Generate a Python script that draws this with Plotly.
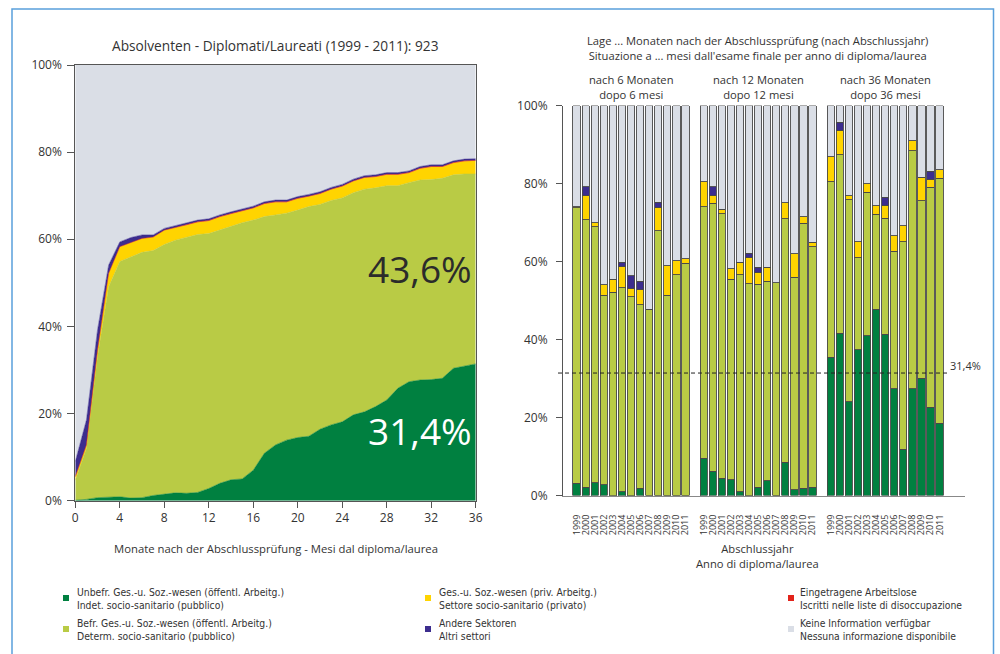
import plotly.graph_objects as go

# ---------------- data: left chart (months after graduation) ----------------
months = list(range(37))
left_green = [0.1, 0.3, 0.7, 0.8, 0.9, 0.6, 0.7, 1.2, 1.5, 1.8, 1.7, 1.9, 2.8, 4.0, 4.8, 5.0, 7.0,
              10.9, 12.8, 13.9, 14.5, 14.8, 16.4, 17.4, 18.1, 19.7, 20.4, 21.6, 23.1, 25.8, 27.3,
              27.7, 27.8, 28.1, 30.4, 30.9, 31.4]
left_olive = [4.6, 11.7, 32.4, 48.3, 54.0, 55.4, 56.3, 56.2, 57.3, 58.0, 58.7, 59.2, 58.5, 58.1, 58.2,
              58.8, 57.4, 54.3, 52.8, 52.1, 52.2, 52.7, 51.6, 51.5, 51.4, 51.0, 51.1, 50.2, 49.2,
              46.5, 45.7, 45.9, 45.9, 45.9, 44.4, 44.1, 43.6]
left_yellow = [0.8, 0.8, 1.5, 3.1, 3.4, 3.3, 3.2, 3.1, 3.3, 2.9, 2.8, 2.8, 2.9, 3.0, 2.8, 2.6, 2.7,
               2.9, 2.9, 2.5, 2.6, 2.3, 2.4, 2.5, 2.6, 2.6, 2.6, 2.5, 2.5, 2.5, 2.2, 2.6, 2.9,
               2.6, 2.7, 2.9, 3.0]
left_red = [0.0, 0.0, 0.0, 0.0, 0.0, 0.0, 0.0, 0.0, 0.0, 0.0, 0.1, 0.1, 0.1, 0.1, 0.1, 0.1, 0.1,
            0.1, 0.1, 0.1, 0.1, 0.1, 0.1, 0.1, 0.1, 0.1, 0.1, 0.1, 0.1, 0.1, 0.1, 0.1, 0.1,
            0.1, 0.1, 0.1, 0.1]
left_blue = [3.5, 5.7, 4.6, 1.9, 1.1, 1.1, 0.8, 0.5, 0.4, 0.4, 0.4, 0.4, 0.4, 0.4, 0.4, 0.4, 0.4,
             0.4, 0.4, 0.4, 0.4, 0.4, 0.4, 0.4, 0.4, 0.4, 0.4, 0.4, 0.4, 0.4, 0.4, 0.4, 0.4,
             0.4, 0.4, 0.4, 0.4]
left_gray = [91.0, 81.5, 60.8, 45.9, 40.6, 39.6, 39.0, 39.0, 37.5, 36.9, 36.3, 35.6, 35.3, 34.4,
             33.7, 33.1, 32.4, 31.4, 31.0, 31.0, 30.2, 29.7, 29.1, 28.1, 27.4, 26.2, 25.4, 25.2,
             24.7, 24.7, 24.3, 23.3, 22.9, 22.9, 22.0, 21.6, 21.5]
month_ticks = [0, 4, 8, 12, 16, 20, 24, 28, 32, 36]
pct_ticks = [0, 20, 40, 60, 80, 100]
pct_labels = ["0%", "20%", "40%", "60%", "80%", "100%"]

# ---------------- data: right chart (by graduation year) ----------------
years = ["1999", "2000", "2001", "2002", "2003", "2004", "2005", "2006", "2007", "2008", "2009", "2010", "2011"]
group_labels = ["nach 6 Monaten<br>dopo 6 mesi", "nach 12 Monaten<br>dopo 12 mesi", "nach 36 Monaten<br>dopo 36 mesi"]

green_6 = [3.2, 2.1, 3.3, 2.7, 0.0, 0.9, 0.0, 1.9, 0.0, 0.0, 0.0, 0.0, 0.0]
olive_6 = [70.6, 68.6, 65.6, 48.6, 52.1, 52.4, 50.9, 47.0, 47.8, 67.9, 51.3, 56.6, 59.5]
yellow_6 = [0.3, 6.2, 1.1, 2.7, 3.4, 5.4, 2.1, 3.8, 0.0, 5.9, 7.6, 3.6, 1.2]
red_6 = [0.0, 0.0, 0.0, 0.0, 0.0, 0.0, 0.0, 0.0, 0.0, 0.0, 0.0, 0.0, 0.0]
blue_6 = [0.0, 2.3, 0.0, 0.0, 0.0, 1.1, 3.4, 2.2, 0.0, 1.4, 0.0, 0.0, 0.0]
gray_6 = [25.9, 20.8, 30.0, 46.0, 44.5, 40.2, 43.6, 45.1, 52.2, 24.8, 41.1, 39.8, 39.3]

green_12 = [9.6, 6.2, 4.4, 4.0, 1.0, 0.0, 2.1, 3.8, 0.0, 8.5, 1.5, 1.9, 2.1]
olive_12 = [64.5, 68.8, 67.8, 51.5, 55.6, 54.3, 52.1, 51.1, 54.6, 62.4, 54.5, 67.9, 61.7]
yellow_12 = [6.4, 1.9, 1.2, 2.7, 3.2, 6.6, 3.1, 3.6, 0.0, 4.2, 6.0, 1.7, 1.1]
red_12 = [0.0, 0.0, 0.0, 0.0, 0.0, 0.0, 0.0, 0.0, 0.0, 0.0, 0.0, 0.0, 0.0]
blue_12 = [0.0, 2.3, 0.0, 0.0, 0.0, 1.2, 1.2, 0.0, 0.0, 0.0, 0.0, 0.0, 0.0]
gray_12 = [19.5, 20.8, 26.6, 41.8, 40.2, 37.9, 41.5, 41.5, 45.4, 24.9, 38.0, 28.5, 35.1]

green_36 = [35.5, 41.6, 24.1, 37.4, 40.9, 47.8, 41.4, 27.4, 11.9, 27.4, 30.1, 22.6, 18.5]
olive_36 = [45.0, 45.8, 51.7, 23.6, 36.8, 24.3, 29.7, 35.2, 53.2, 61.0, 45.5, 56.5, 62.9]
yellow_36 = [6.4, 6.2, 1.1, 4.1, 2.2, 2.2, 3.3, 4.0, 4.1, 2.6, 6.0, 2.0, 2.1]
red_36 = [0.0, 0.0, 0.0, 0.0, 0.0, 0.0, 0.0, 0.0, 0.0, 0.0, 0.0, 0.0, 0.0]
blue_36 = [0.0, 2.1, 0.0, 0.0, 0.0, 0.0, 2.1, 0.0, 0.0, 0.0, 0.0, 2.0, 0.0]
gray_36 = [13.1, 4.3, 23.1, 34.9, 20.1, 25.7, 23.5, 33.4, 30.8, 9.0, 18.4, 16.9, 16.5]

legend_names = [
    "Unbefr. Ges.-u. Soz.-wesen (öffentl. Arbeitg.)<br>Indet. socio-sanitario (pubblico)",
    "Befr. Ges.-u. Soz.-wesen (öffentl. Arbeitg.)<br>Determ. socio-sanitario (pubblico)",
    "Ges.-u. Soz.-wesen (priv. Arbeitg.)<br>Settore socio-sanitario (privato)",
    "Eingetragene Arbeitslose<br>Iscritti nelle liste di disoccupazione",
    "Andere Sektoren<br>Altri settori",
    "Keine Information verfügbar<br>Nessuna informazione disponibile",
]

# ---------------- styles ----------------
C_GREEN = "#008040"
C_OLIVE = "#B9CB45"
C_YELLOW = "#FFD400"
C_RED = "#E2231A"
C_BLUE = "#3C2D8E"
C_GRAY = "#DADEE6"
colors = [C_GREEN, C_OLIVE, C_YELLOW, C_RED, C_BLUE, C_GRAY]
TXT = "#333333"
AX = "#555555"
FONT = "Open Sans, Lato, sans-serif"
NARROW = "Liberation Sans Narrow, DejaVu Sans Condensed, Arial Narrow, sans-serif"

W, H = 1000, 654


def px(x):
    return x / W


def py(y):
    return 1 - y / H


fig = go.Figure()

# ---------------- left stacked area ----------------
left_series = [left_green, left_olive, left_yellow, left_red, left_blue, left_gray]
for name, vals, col in zip(legend_names, left_series, colors):
    fig.add_trace(go.Scatter(
        x=months, y=vals, stackgroup="left", mode="lines",
        line=dict(width=0.5, color=col), fillcolor=col,
        name=name, showlegend=False, hoverinfo="skip",
        xaxis="x", yaxis="y"))

# ---------------- right stacked bars ----------------
bar_groups = [
    [green_6, green_12, green_36],
    [olive_6, olive_12, olive_36],
    [yellow_6, yellow_12, yellow_36],
    [red_6, red_12, red_36],
    [blue_6, blue_12, blue_36],
    [gray_6, gray_12, gray_36],
]
slot_step = len(years) + 1
tick_pos, tick_txt = [], []
for g in range(3):
    for i, yr in enumerate(years):
        tick_pos.append(g * slot_step + i)
        tick_txt.append(yr)

for name, groups, col in zip(legend_names, bar_groups, colors):
    xs, ys = [], []
    for g, vals in enumerate(groups):
        for i, v in enumerate(vals):
            xs.append(g * slot_step + i)
            ys.append(v)
    fig.add_trace(go.Bar(
        x=xs, y=ys, width=0.8, name=name, showlegend=False,
        marker=dict(color=col, line=dict(color="#484848", width=0.9)),
        hoverinfo="skip", xaxis="x2", yaxis="y2"))

# ---------------- axes ----------------
common = dict(showgrid=False, zeroline=False, showline=True, linecolor=AX, linewidth=1,
              automargin=False,
              ticks="outside", tickcolor=AX, tickfont=dict(family=FONT, size=12, color=TXT))

fig.update_layout(
    width=W, height=H, margin=dict(l=0, r=0, t=0, b=0, pad=0),
    paper_bgcolor="white", plot_bgcolor="white",
    barmode="stack", bargap=0, showlegend=False,
    font=dict(family=FONT, color=TXT),
    xaxis=dict(domain=[px(75.3), px(475.7)], range=[0, 36], tickvals=month_ticks,
               ticklen=6, mirror=True, anchor="y", **common),
    yaxis=dict(domain=[py(500.7), py(65)], range=[0, 100], tickvals=pct_ticks, ticktext=pct_labels,
               ticklen=7, mirror=True, anchor="x", ticklabelstandoff=3, **common),
    xaxis2=dict(domain=[px(563), px(965)], range=[-1.5, 42.8], tickvals=tick_pos, ticktext=tick_txt,
                tickangle=-90, showgrid=False, zeroline=False, showline=True, linecolor="#888888",
                linewidth=1.5, ticks="", ticklabelstandoff=14, automargin=False,
                tickfont=dict(family=FONT, size=9, color=TXT), anchor="y2"),
    yaxis2=dict(domain=[py(495.5), py(105.5)], range=[0, 100], tickvals=pct_ticks, ticktext=pct_labels,
                ticklen=6, anchor="x2", ticklabelstandoff=6, **common),
)

# ---------------- texts ----------------
ann = []


def add_text(x, y, text, size=11, color=TXT, family=FONT, xanchor="center", yanchor="middle", align="center"):
    ann.append(dict(x=px(x), y=py(y), xref="paper", yref="paper", text=text, showarrow=False,
                    xanchor=xanchor, yanchor=yanchor, align=align,
                    font=dict(family=family, size=size, color=color)))


add_text(275, 45, "Absolventen - Diplomati/Laureati (1999 - 2011): 923", size=13.7)
add_text(276, 548, "Monate nach der Abschlussprüfung - Mesi dal diploma/laurea", size=11.3)
add_text(420, 268, "43,6%", size=37, color="#2B2B2B")
add_text(420, 430, "31,4%", size=37, color="white")

add_text(757, 48, "Lage ... Monaten nach der Abschlussprüfung (nach Abschlussjahr)<br>"
                  "Situazione a ... mesi dall'esame finale per anno di diploma/laurea", size=11.2)
group_centers = [631, 758, 885.5]
for cx, lbl in zip(group_centers, group_labels):
    add_text(cx, 87, lbl, size=11.2)
add_text(757, 556, "Abschlussjahr<br>Anno di diploma/laurea", size=11.2)
add_text(965, 365, "31,4%", size=11)

# legend
leg_cols = [(66, 75), (428, 437), (791, 798)]
leg_rows = [598, 629]
shapes = []
order = [(0, 0, 0), (1, 0, 1), (2, 1, 0), (4, 1, 1), (3, 2, 0), (5, 2, 1)]
for idx, c, r in order:
    mx, tx = leg_cols[c]
    yy = leg_rows[r]
    shapes.append(dict(type="rect", xref="paper", yref="paper",
                       x0=px(mx - 3), x1=px(mx + 3), y0=py(yy + 3), y1=py(yy - 3),
                       fillcolor=colors[idx], line=dict(width=0)))
    add_text(tx, yy, legend_names[idx], size=10.3, family=NARROW, xanchor="left", align="left")

# dashed reference line at the 36-month value
shapes.append(dict(type="line", xref="paper", yref="y2", x0=px(558), x1=px(950),
                   y0=left_green[-1], y1=left_green[-1],
                   line=dict(color="#222222", width=1, dash="4px,3px")))

# outer frame
shapes.append(dict(type="rect", xref="paper", yref="paper", x0=px(12), x1=px(993.5),
                   y0=-0.05, y1=py(9), line=dict(color="#5AA0DC", width=1.5), fillcolor="rgba(0,0,0,0)"))

fig.update_layout(annotations=ann, shapes=shapes)
fig.write_html("out.html", config={"displayModeBar": False, "staticPlot": True},
               post_script="document.body.style.margin='0px';document.body.style.overflow='hidden';")
